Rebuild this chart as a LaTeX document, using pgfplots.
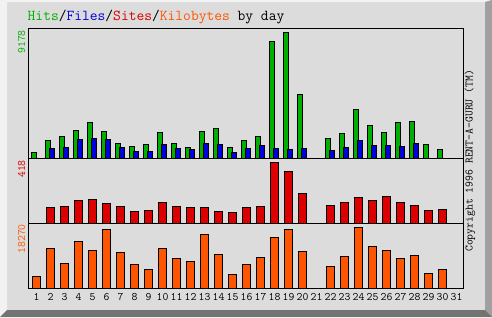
\documentclass[border=0pt]{standalone}
\usepackage{fontspec}
\usepackage{pgfplots}
\pgfplotsset{compat=1.18}
\definecolor{hitgreen}{RGB}{0,176,0}
\definecolor{fileblue}{RGB}{0,0,221}
\definecolor{sitered}{RGB}{221,0,0}
\definecolor{kborange}{RGB}{255,85,0}
\definecolor{bggray}{RGB}{220,220,220}
\definecolor{bevlight}{RGB}{242,242,242}
\definecolor{bevright}{RGB}{160,160,160}
\definecolor{bevbottom}{RGB}{115,115,115}
\newcommand{\tinyfont}{\ttfamily\fontsize{11.4}{12}\selectfont}
\pgfplotsset{
  webbase/.style={
    scale only axis, width=434.7pt, anchor=south west,
    xmin=0.4286, xmax=31.479, ymin=0,
    axis line style={black, line width=1pt},
    xtick=\empty, ytick=\empty,
    major tick length=0pt,
    ybar,
    every axis plot/.append style={draw=black, line width=1pt},
  },
}
\begin{document}
\begin{tikzpicture}
\useasboundingbox (0,0) rectangle (492pt,317pt);
\fill[bggray] (0,0) rectangle (492pt,317pt);
\fill[bevlight] (0,0) -- (7pt,7pt) -- (7pt,315pt) -- (0,317pt) -- cycle;
\fill[bevlight] (0,317pt) -- (492pt,317pt) -- (485pt,315pt) -- (7pt,315pt) -- cycle;
\fill[bevright] (492pt,317pt) -- (492pt,0) -- (485pt,7pt) -- (485pt,315pt) -- cycle;
\fill[bevbottom] (0,0) -- (492pt,0) -- (485pt,7pt) -- (7pt,7pt) -- cycle;

% Hits / Files
\begin{axis}[webbase, at={(28.5pt,158.5pt)}, height=130pt, ymax=9492]
\addplot[fill=hitgreen, bar width=5pt, bar shift=-2.2pt] coordinates {
(1,416) (2,1292) (3,1584) (4,2022) (5,2606) (6,1949) (7,1073) (8,854) (9,1000) (10,1876)
(11,1073) (12,781) (13,1949) (14,2168) (15,781) (16,1292) (17,1584) (18,8520) (19,9178) (20,4651)
(22,1438) (23,1803) (24,3556) (25,2387) (26,1876) (27,2606) (28,2679) (29,1000) (30,635)};
\addplot[fill=fileblue, bar width=5pt, bar shift=1.8pt] coordinates {
(2,708) (3,803) (4,1365) (5,1438) (6,1365) (7,781) (8,489) (9,489) (10,1000)
(11,708) (12,635) (13,1073) (14,1000) (15,416) (16,708) (17,927) (18,708) (19,635) (20,708)
(22,562) (23,781) (24,1292) (25,927) (26,927) (27,854) (28,1073)};
\end{axis}

% Sites
\begin{axis}[webbase, at={(28.5pt,93.5pt)}, height=65pt, ymax=445.4]
\addplot[fill=sitered, bar width=7.3pt, bar shift=0pt] coordinates {
(2,110) (3,116) (4,158) (5,164) (6,137) (7,116) (8,82) (9,89) (10,144)
(11,116) (12,110) (13,110) (14,82) (15,75) (16,110) (17,116) (18,418) (19,356) (20,206)
(22,123) (23,144) (24,178) (25,158) (26,185) (27,144) (28,123) (29,89) (30,96)};
\end{axis}

% Kilobytes
\begin{axis}[webbase, at={(28.5pt,28.5pt)}, height=65pt, ymax=19468,
  xtick={1,...,31},
  xticklabels={1,2,3,4,5,6,7,8,9,10,11,12,13,14,15,16,17,18,19,20,21,22,23,24,25,26,27,28,29,30,31},
  xticklabel style={font=\tinyfont, text=black, anchor=base, yshift=-12.2pt, inner sep=0pt}]
\addplot[fill=kborange, bar width=7.3pt, bar shift=0pt] coordinates {
(1,3594) (2,11980) (3,7488) (4,14166) (5,11381) (6,17671) (7,10782) (8,7188) (9,5691) (10,11980)
(11,8985) (12,8087) (13,16173) (14,10183) (15,4193) (16,7188) (17,9285) (18,15275) (19,17671) (20,11082)
(22,6589) (23,9584) (24,18270) (25,12579) (26,11381) (27,8985) (28,9884) (29,4493) (30,5691)};
\end{axis}

% Title
\node[anchor=base west, inner sep=0pt, font=\ttfamily\fontsize{15.1}{18}\selectfont] at (27.5pt,296.3pt)
  {{\color{hitgreen}Hits}/{\color{fileblue}Files}/{\color{sitered}Sites}/{\color{kborange}Kilobytes} by day};

% Left scale labels
\node[rotate=90, anchor=base east, inner sep=0pt, font=\tinyfont, text=hitgreen] at (25pt,287pt) {9178};
\node[rotate=90, anchor=base east, inner sep=0pt, font=\tinyfont, text=sitered] at (25pt,157pt) {418};
\node[rotate=90, anchor=base east, inner sep=0pt, font=\tinyfont, text=kborange] at (25pt,93pt) {18270};

% Right copyright
\node[rotate=90, anchor=base west, inner sep=0pt, font=\tinyfont, text=black] at (472.7pt,65pt) {Copyright 1996 RENT-A-GURU (TM)};
\end{tikzpicture}
\end{document}
